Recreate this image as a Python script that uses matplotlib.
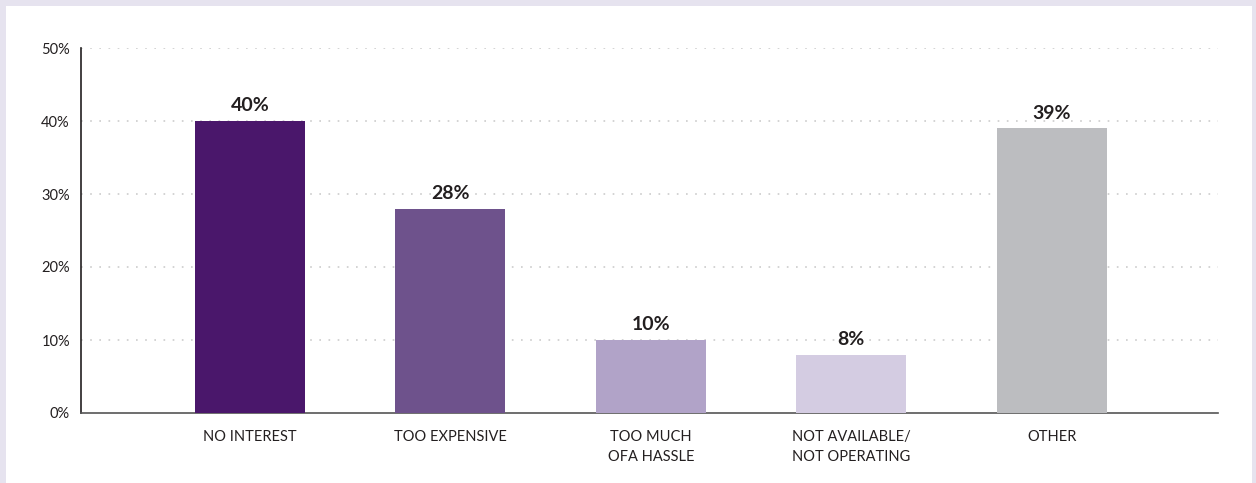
import numpy as np
import matplotlib.pyplot as plt
from matplotlib.patches import Rectangle

# data
categories = ['NO INTEREST', 'TOO EXPENSIVE', 'TOO MUCH\nOFA HASSLE',
              'NOT AVAILABLE/\nNOT OPERATING', 'OTHER']
values = [40, 28, 10, 8, 39]
bar_colors = ['#4a176b', '#6e528c', '#b1a3c8', '#d4cce2', '#bcbdc0']
y_ticks = [0, 10, 20, 30, 40, 50]

plt.rcParams['font.family'] = ['Lato', 'DejaVu Sans']

W, H = 1256, 483
fig = plt.figure(figsize=(W / 100, H / 100), dpi=100)
fig.patch.set_facecolor('#e6e3ef')

# white panel behind the axes
fig.patches.append(Rectangle((6 / W, 0), (1252 - 6) / W, (H - 6) / H,
                             transform=fig.transFigure, facecolor='white',
                             edgecolor='none', zorder=-10))

ax = fig.add_axes([81 / W, (H - 413) / H, (1218 - 81) / W, (413 - 48) / H])
ax.set_facecolor('none')

x = np.arange(len(categories))
ax.bar(x, values, width=0.55, color=bar_colors, zorder=3)

for xi, v in zip(x, values):
    ax.text(xi, v + 0.9, f'{v}%', ha='center', va='bottom',
            fontsize=14, fontweight='bold', color='#231f20', zorder=4)

ax.set_xlim(-0.843, 4.83)
ax.set_ylim(0, 50)
ax.set_yticks(y_ticks)
ax.set_yticklabels([f'{t}%' for t in y_ticks], fontsize=10.5, color='#231f20')
ax.set_xticks(x)
ax.set_xticklabels(categories, fontsize=10.5, color='#231f20', linespacing=1.55, va='top')
ax.tick_params(axis='both', length=0)
ax.tick_params(axis='x', pad=12)
ax.tick_params(axis='y', pad=8)

for t in y_ticks[1:]:
    ax.axhline(t, color='#cccccc', linestyle=(0, (1, 4.5)), linewidth=1.2, zorder=1)

for s in ['top', 'right']:
    ax.spines[s].set_visible(False)
ax.spines['left'].set_color('#231f20')
ax.spines['left'].set_linewidth(1.2)
ax.spines['bottom'].set_color('#555555')
ax.spines['bottom'].set_linewidth(1.2)

fig.savefig('out.png', dpi=100, facecolor=fig.get_facecolor())
